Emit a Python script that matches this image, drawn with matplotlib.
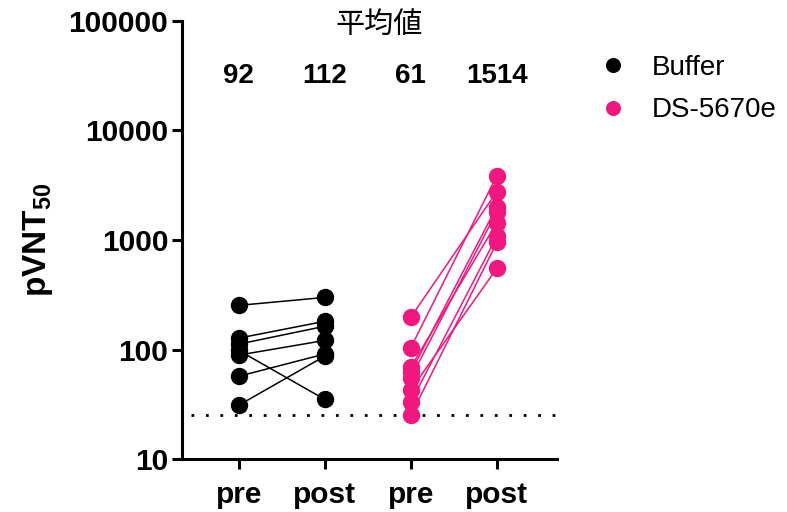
import matplotlib
matplotlib.use("Agg")
import matplotlib.pyplot as plt

plt.rcParams['font.family'] = ['Liberation Sans', 'DejaVu Sans']
plt.rcParams['mathtext.fontset'] = 'custom'
plt.rcParams['mathtext.rm'] = 'Liberation Sans:bold'
plt.rcParams['mathtext.bf'] = 'Liberation Sans:bold'

# data
groups = ["Buffer", "DS-5670e"]
tick_labels = ["pre", "post", "pre", "post"]
buffer_pre = [253, 127, 112, 98, 89, 57, 31]
buffer_post = [299, 181, 163, 35, 121, 91, 87]
ds_pre = [197, 104, 69, 62, 55, 43, 33, 25]
ds_post = [2770, 3870, 1440, 2020, 1820, 550, 1080, 950]
means = [92, 112, 61, 1514]
lod = 25

black = "#000000"
pink = "#F2167F"

fig = plt.figure(figsize=(7.87, 5.12), dpi=100)
ax = fig.add_axes([0.2313, 0.1035, 0.4765, 0.8555])

for a, b in zip(buffer_pre, buffer_post):
    ax.plot([0, 1], [a, b], color=black, lw=1.1, zorder=2)
for a, b in zip(ds_pre, ds_post):
    ax.plot([2, 3], [a, b], color=pink, lw=1.1, zorder=2)

ms = 11.5
ax.plot([0] * len(buffer_pre), buffer_pre, 'o', color=black, ms=ms, zorder=3, label=groups[0])
ax.plot([1] * len(buffer_post), buffer_post, 'o', color=black, ms=ms, zorder=3)
ax.plot([2] * len(ds_pre), ds_pre, 'o', color=pink, ms=ms, zorder=3, label=groups[1])
ax.plot([3] * len(ds_post), ds_post, 'o', color=pink, ms=ms, zorder=3)

ax.plot([-0.55, 3.7], [lod, lod], color=black, lw=2, ls=(0, (1, 4.2)), zorder=1)

ax.set_yscale('log')
ax.set_ylim(10, 100000)
ax.set_xlim(-0.66, 3.70)
ax.set_yticks([10, 100, 1000, 10000, 100000])
ax.set_yticklabels(["10", "100", "1000", "10000", "100000"])
ax.minorticks_off()
ax.set_xticks(range(4))
ax.set_xticklabels(tick_labels)

for s in ['top', 'right']:
    ax.spines[s].set_visible(False)
for s in ['left', 'bottom']:
    ax.spines[s].set_linewidth(2.2)
ax.tick_params(width=2.2, length=7, labelsize=21.5, pad=3)
ax.tick_params(axis='x', pad=9)
for lab in ax.get_xticklabels() + ax.get_yticklabels():
    lab.set_fontweight('bold')

ax.set_ylabel(r'pVNT$_{50}$', fontsize=24, fontweight='bold', labelpad=10)

for i, m in enumerate(means):
    ax.text(i, 0.875, str(m), transform=ax.get_xaxis_transform(), ha='center', va='center',
            fontsize=20, fontweight='bold')
ax.text(1.63, 0.99, "平均値", transform=ax.get_xaxis_transform(), ha='center', va='center',
        fontsize=21, family=['Noto Sans CJK JP', 'DejaVu Sans'])

fig.legend(loc='upper left', bbox_to_anchor=(0.768, 0.893), frameon=False, fontsize=20,
           handletextpad=1.1, labelspacing=0.6, markerscale=0.85, handlelength=0.6,
           borderaxespad=0, borderpad=0)

fig.savefig("out.png", dpi=100)
